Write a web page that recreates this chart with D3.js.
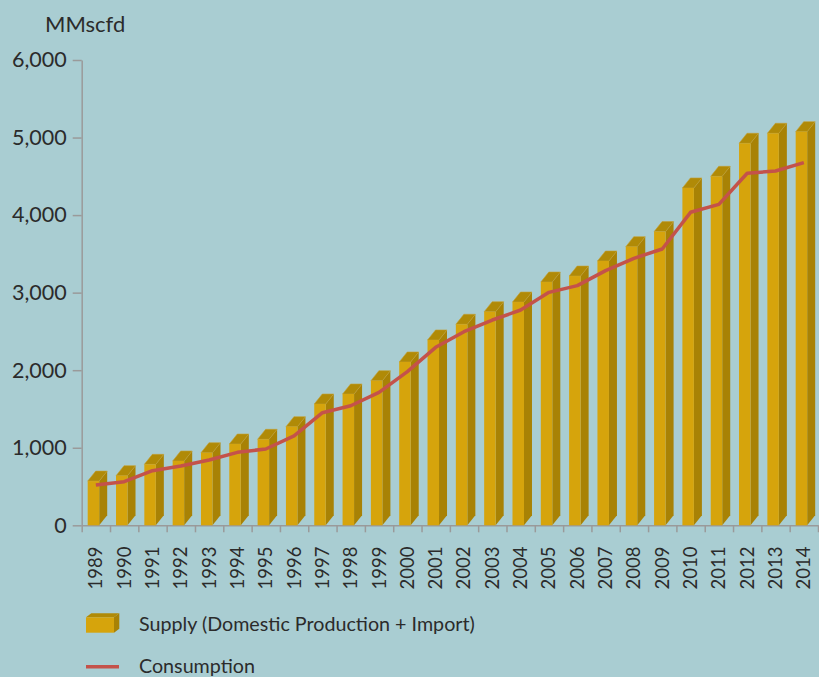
<!DOCTYPE html>
<html><head><meta charset="utf-8">
<script src="https://cdn.jsdelivr.net/npm/d3@7"></script>
<style>
html,body{margin:0;padding:0;background:#a9cdd2;}
svg{display:block;font-family:Lato,"Open Sans",sans-serif;}
</style></head>
<body><svg id="chart" width="819" height="677"></svg>
<script>
const years = ["1989","1990","1991","1992","1993","1994","1995","1996","1997","1998","1999","2000","2001","2002","2003","2004","2005","2006","2007","2008","2009","2010","2011","2012","2013","2014"];
const supply = [570,640,786,829,936,1048,1109,1272,1564,1693,1865,2106,2390,2592,2754,2879,3137,3214,3408,3593,3787,4350,4500,4926,5055,5076];
const consumption = [520,562,704,765,842,941,984,1152,1452,1542,1715,1981,2295,2497,2647,2776,3004,3091,3284,3443,3563,4036,4139,4539,4569,4676];
const yTicks = [0,1000,2000,3000,4000,5000,6000];
const unitLabel = "MMscfd";
const legendSupply = "Supply (Domestic Production + Import)";
const legendConsumption = "Consumption";

const C = {front:"#d6a40c", side:"#a88205", top:"#b08a07", edge:"#c4a032", line:"#c4524a", axis:"#9a9a9a", text:"#2b2b2b"};
const svg = d3.select("#chart");
const x = d3.scaleBand().domain(years).range([81.7, 818]).padding(0);
const y = d3.scaleLinear().domain([0, 6000]).range([525.3, 60]);
const bw = x.bandwidth();
const fOff = 6, fW = 11.5, dx = 8, dy = 10;

// unit label
svg.append("text").attr("x", 45).attr("y", 31.7).attr("font-size", 22).attr("fill", C.text).text(unitLabel);

// y axis
const yAxis = svg.append("g").attr("transform", "translate(81.7,0)")
  .call(d3.axisLeft(y).tickValues(yTicks).tickFormat(d3.format(",")).tickSize(9).tickSizeOuter(0).tickPadding(6));
yAxis.selectAll("path,line").attr("stroke", C.axis).attr("stroke-width", 1.5);
yAxis.selectAll("text").attr("font-size", 21.5).attr("fill", C.text).attr("font-family", "Lato");

// x axis: boundary ticks
const xb = d3.scaleLinear().domain([0, years.length]).range(x.range());
const xAxis = svg.append("g").attr("transform", "translate(0,525.3)")
  .call(d3.axisBottom(xb).tickValues(d3.range(0, years.length + 1)).tickFormat("").tickSize(7).tickSizeOuter(0));
xAxis.selectAll("path,line").attr("stroke", C.axis).attr("stroke-width", 1.5);

// x labels
const xl = svg.append("g").attr("transform", "translate(0,546.5)")
  .call(d3.axisBottom(x).tickSize(0).tickPadding(0));
xl.select(".domain").remove();
xl.selectAll("text").attr("font-size", 18.5).attr("fill", C.text).attr("font-family", "Lato")
  .attr("transform", "rotate(-90)").attr("text-anchor", "end").attr("x", 0).attr("y", 0).attr("dy", "0.35em");

// bars
const bars = svg.append("g").selectAll("g").data(years).join("g");
bars.each(function(d, i) {
  const g = d3.select(this);
  const x0 = x(d) + fOff, x1 = x0 + fW, yt = y(supply[i]), yb = y(0);
  g.append("path").attr("d", `M${x1},${yt}L${x1+dx},${yt-dy}L${x1+dx},${yb-dy}L${x1},${yb}Z`).attr("fill", C.side);
  g.append("path").attr("d", `M${x0},${yt}L${x0+dx},${yt-dy}L${x1+dx},${yt-dy}L${x1},${yt}Z`).attr("fill", C.top).attr("stroke", C.edge).attr("stroke-width", 0.6);
  g.append("rect").attr("x", x0).attr("y", yt).attr("width", fW).attr("height", yb - yt).attr("fill", C.front);
});

// consumption line
svg.append("path").datum(consumption)
  .attr("d", d3.line().x((d, i) => x(years[i]) + bw / 2).y(d => y(d)))
  .attr("fill", "none").attr("stroke", C.line).attr("stroke-width", 3.5).attr("stroke-linejoin", "round");

// legend
const lg = svg.append("g");
lg.append("path").attr("d", "M114,617.3L119.3,613.3L119.3,628.7L114,632.7Z").attr("fill", C.side);
lg.append("path").attr("d", "M86,617.3L91.3,613.3L119.3,613.3L114,617.3Z").attr("fill", C.top);
lg.append("rect").attr("x", 86).attr("y", 617.3).attr("width", 28).attr("height", 15.4).attr("fill", C.front);
lg.append("text").attr("x", 139).attr("y", 631).attr("font-size", 19.7).attr("fill", C.text).text(legendSupply);
lg.append("line").attr("x1", 86).attr("x2", 119).attr("y1", 666.7).attr("y2", 666.7).attr("stroke", C.line).attr("stroke-width", 3.5);
lg.append("text").attr("x", 139).attr("y", 673.3).attr("font-size", 19.7).attr("fill", C.text).text(legendConsumption);
</script></body></html>
